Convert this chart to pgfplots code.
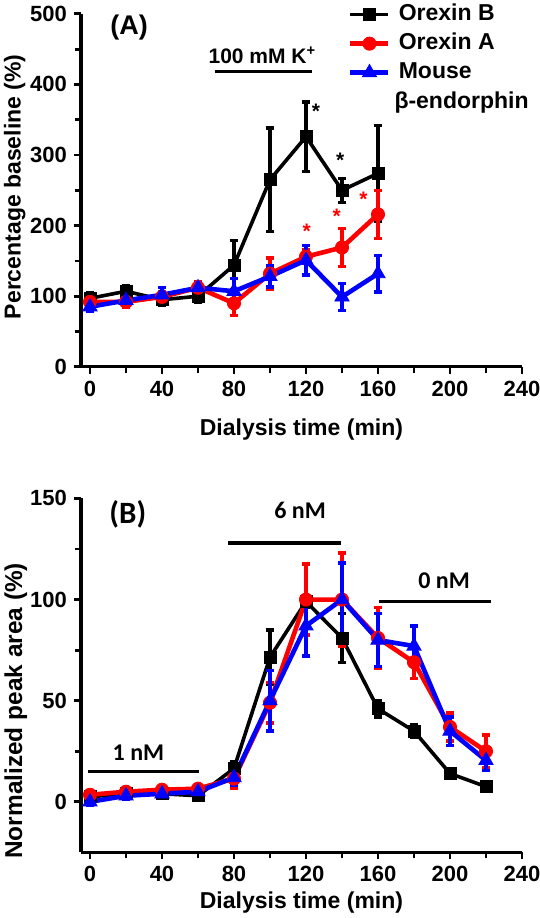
\documentclass[border=0pt]{standalone}
\usepackage{pgfplots}
\pgfplotsset{compat=1.18}
\usepackage{pgfplotstable}
\usepackage{fontspec}
\setmainfont{Liberation Sans}
\newfontfamily\carfont{Carlito}

\pgfplotstableread{
x y e
0 97 8
20 107 8
40 95 8
60 100 8
80 144 35
100 265 73
120 326 49
140 250 17
160 274 68
}\tabAB
\pgfplotstableread{
x y e
0 92 8
20 92 8
40 99 8
60 112 8
80 90 17
100 132 22
120 156 10
140 169 27
160 216 34
}\tabAA
\pgfplotstableread{
x y e
0 85 7
20 94 8
40 102 10
60 112 7
80 107 18
100 128 15
120 151 21
140 99 19
160 132 26
}\tabAM
\pgfplotstableread{
x y e
0 2.5 1
20 4 1
40 4 1
60 3 1
80 16.5 3.5
100 71.5 13.5
120 99 3
140 81 12
160 46 4
180 35 3
200 14 2
220 7.5 1.5
}\tabBB
\pgfplotstableread{
x y e
0 3.5 1.5
20 5 1.5
40 6 1.5
60 6.5 1.5
80 11.5 5
100 49 10
120 100 17.5
140 100 23
160 81 15
180 69 8
200 37 7
220 25 8
}\tabBA
\pgfplotstableread{
x y e
0 0 1.5
20 3 1.5
40 4 1.5
60 5 1.5
80 12 4
100 50 15
120 87 15
140 100 18
160 80 13
180 77 10
200 35 7
220 20.5 5
}\tabBM

\pgfplotsset{
  common/.style={
    scale only axis, width=220.5pt,
    xmin=-5, xmax=240, xtick={0,40,...,240}, minor x tick num=1,
    minor y tick num=1,
    axis x line*=bottom, axis y line*=left,
    tick align=outside, major tick length=3.5pt, minor tick length=3pt,
    tick style={line width=1.4pt, black},
    axis line style={line width=1.6pt},
    /pgf/number format/assume math mode=true,
    ticklabel style={font=\bfseries\fontsize{11}{13}\selectfont},
    label style={font=\bfseries\fontsize{11.5}{13}\selectfont},
    clip=false,
    error bars/y dir=both, error bars/y explicit,
    error bars/error bar style={line width=1.7pt, solid},
    error bars/error mark options={rotate=90, mark size=2.2pt, line width=1.7pt},
  },
  sB/.style={color=black, mark=square*, mark size=3pt, line width=1.8pt, mark options={solid, line width=0.4pt}},
  sA/.style={color=red, mark=*, mark size=3.3pt, line width=2.3pt, mark options={solid, line width=0.4pt}},
  sM/.style={color=blue, mark=triangle*, mark size=4.1pt, line width=2.3pt, mark options={solid, line width=0.4pt}},
}

\begin{document}
\begin{tikzpicture}
\useasboundingbox (0,0) rectangle (270pt,-459pt);
\begin{axis}[common, at={(40.5pt,-183.4pt)}, anchor=south west, height=176.5pt,
  ymin=0, ymax=500, ytick={0,100,...,500},
  xlabel={Dialysis time (min)}, ylabel={Percentage baseline (\%)},
  xlabel style={at={(axis description cs:0.5,-0.179)}, anchor=center},
  ylabel style={at={(axis description cs:-0.15,0.51)}, anchor=center},
  legend cell align=left,
  legend image code/.code={\draw[mark repeat=2,mark phase=2,#1] plot coordinates {(0pt,0pt) (9.5pt,0pt) (19pt,0pt)};},
  legend style={draw=none, fill=none, inner sep=0pt, at={(axis description cs:0.605,1.027)}, anchor=north west,
    font=\bfseries\fontsize{11.5}{13}\selectfont, row sep=4.5pt, column sep=4pt,
    nodes={inner sep=0pt, text height=8pt, text depth=2pt}},
]
\addplot[sB] table[x=x, y=y, y error=e] {\tabAB};
\addlegendentry{Orexin B}
\addplot[sA] table[x=x, y=y, y error=e] {\tabAA};
\addlegendentry{Orexin A}
\addplot[sM] table[x=x, y=y, y error=e] {\tabAM};
\addlegendentry{Mouse}
\node[anchor=west, inner sep=0pt, font=\bfseries\fontsize{11.5}{13}\selectfont] at (axis description cs:0.71,0.748) {β-endorphin};
\node[font=\bfseries\fontsize{13.5}{15}\selectfont] at (axis cs:21.7,480) {(A)};
\node[font=\bfseries\fontsize{10.5}{12}\selectfont] at (axis cs:95.8,441.5) {100 mM K\textsuperscript{+}};
\draw[line width=1.6pt] (axis cs:69.4,418) -- (axis cs:123.1,418);
\node[font=\bfseries\fontsize{10.5}{12}\selectfont] at (axis cs:125.6,362) {*};
\node[font=\bfseries\fontsize{10.5}{12}\selectfont] at (axis cs:139,293) {*};
\node[font=\bfseries\fontsize{10.5}{12}\selectfont, text=red] at (axis cs:120.4,192) {*};
\node[font=\bfseries\fontsize{10.5}{12}\selectfont, text=red] at (axis cs:137,213) {*};
\node[font=\bfseries\fontsize{10.5}{12}\selectfont, text=red] at (axis cs:151.9,238) {*};
\end{axis}

\begin{axis}[common, at={(40.5pt,-426.2pt)}, anchor=south west, height=177pt,
  ymin=-25, ymax=150, ytick={0,50,100,150},
  xlabel={Dialysis time (min)}, ylabel={Normalized peak area (\%)},
  xlabel style={at={(axis description cs:0.5,-0.143)}, anchor=center},
  ylabel style={at={(axis description cs:-0.148,0.40)}, anchor=center, font=\bfseries\fontsize{12.2}{14}\selectfont},
]
\addplot[sB] table[x=x, y=y, y error=e] {\tabBB};
\addplot[sA] table[x=x, y=y, y error=e] {\tabBA};
\addplot[sM] table[x=x, y=y, y error=e] {\tabBM};
\node[font=\carfont\bfseries\fontsize{15.5}{17}\selectfont] at (axis cs:21,142) {(B)};
\node[font=\carfont\bfseries\fontsize{12}{14}\selectfont] at (axis cs:116.7,144) {6 nM};
\draw[line width=1.6pt] (axis cs:76.8,128) -- (axis cs:139.4,128);
\node[font=\carfont\bfseries\fontsize{12}{14}\selectfont] at (axis cs:196.7,109.4) {0 nM};
\draw[line width=1.6pt] (axis cs:160.6,99.2) -- (axis cs:222.8,99.2);
\node[font=\carfont\bfseries\fontsize{12}{14}\selectfont] at (axis cs:26.9,24.2) {1 nM};
\draw[line width=1.6pt] (axis cs:-0.9,15.1) -- (axis cs:60.7,15.1);
\end{axis}
\end{tikzpicture}
\end{document}
